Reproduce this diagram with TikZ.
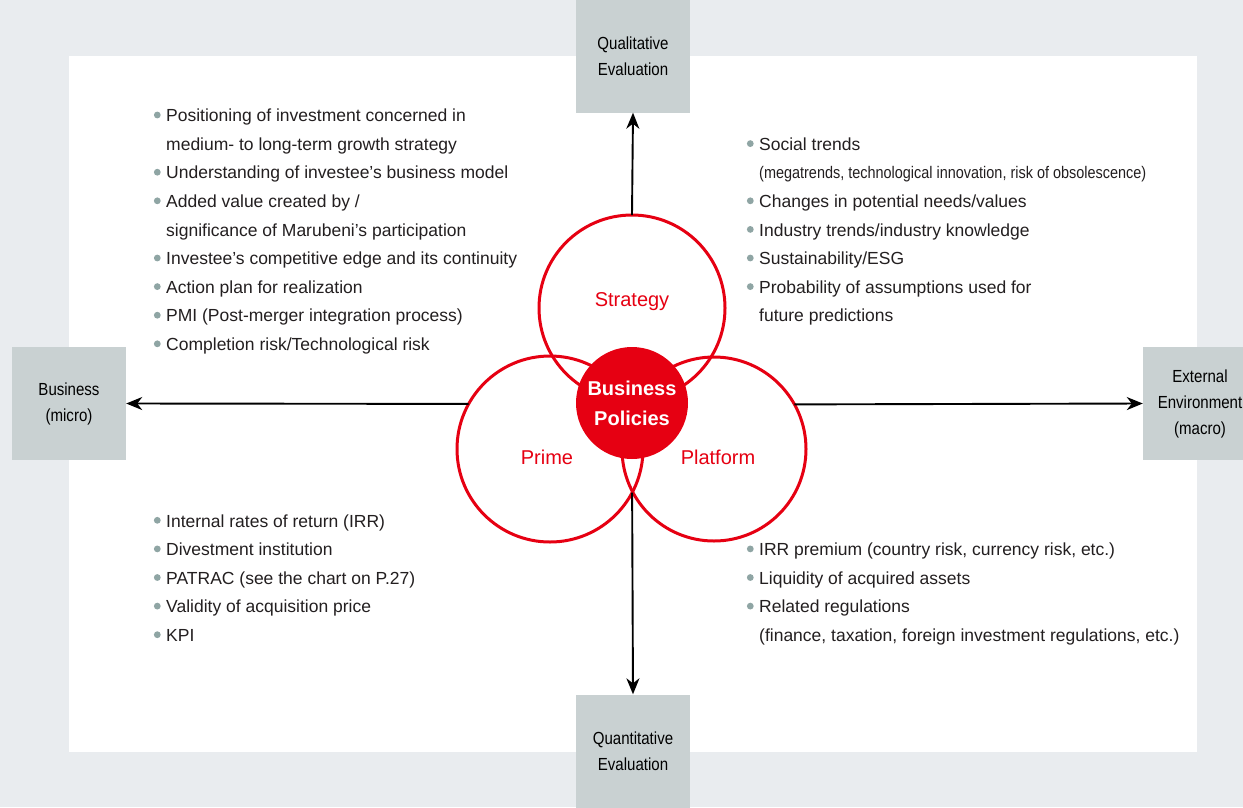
\documentclass[tikz,border=0pt]{standalone}
\usepackage{fontspec}
\setmainfont{Liberation Sans}
\newfontfamily\condfont[FakeStretch=0.86]{Liberation Sans}
\usetikzlibrary{arrows.meta}
\definecolor{mred}{RGB}{230,0,18}
\definecolor{boxgrey}{RGB}{201,209,210}
\definecolor{bggrey}{RGB}{233,236,239}
\definecolor{dotgrey}{RGB}{143,165,164}
\definecolor{txtcol}{RGB}{35,31,32}
\newcommand{\bul}{\llap{\tikz[baseline=-6.7pt]\fill[dotgrey] (0,0) circle (3.4pt);\hspace{5.5pt}}}
\newcommand{\condsmall}{\condfont\fontsize{16.8}{18}\selectfont}
\begin{document}
\begin{tikzpicture}
[x=1pt,y=-1pt,
  boxdecorate/.style={fill=boxgrey,minimum width=114,minimum height=113,inner sep=0,
    align=center,text=black,font=\condfont\fontsize{17.5}{26}\selectfont},
  ringdecorate/.style={circle,draw=mred,line width=3pt,inner sep=0,outer sep=0},
  labeldecorate/.style={anchor=base,inner sep=0,text=mred,font=\fontsize{20}{24}\selectfont},
  listdecorate/.style={anchor=base west,inner sep=0,text=txtcol,font=\fontsize{17.5}{21}\selectfont},
  arrowdecorate/.style={-{Stealth[length=16pt,width=13pt,inset=5pt]},line width=1.9pt}]
\useasboundingbox (0,0) rectangle (1243,807);
%% background and panel
\fill[bggrey] (0,0) rectangle (1243,807);
\fill[white] (69,56) rectangle (1197,752);
%% boxes
\node[boxdecorate] (qual) at (633,56) {Qualitative\\Evaluation};
\node[boxdecorate] (quant) at (633,751) {Quantitative\\Evaluation};
\node[boxdecorate] (micro) at (69,403.5) {Business\\(micro)};
\node[boxdecorate] (macro) at (1200,403.5) {External\\Environment\\(macro)};
%% circles
\node[ringdecorate,minimum size=186] (strategy) at (632,308) {};
\node[ringdecorate,minimum size=186] (prime) at (550,449) {};
\node[ringdecorate,minimum size=184] (platform) at (714,449) {};
\coordinate (low) at (prime.-28);
\node[labeldecorate] (strategylabel) at (632,306) {Strategy};
\node[labeldecorate] (primelabel) at (547,464) {Prime};
\node[labeldecorate] (platformlabel) at (718,464) {Platform};
\node[circle,fill=mred,minimum size=112,inner sep=0,align=center,text=white,
  font=\bfseries\fontsize{20}{30}\selectfont] (policies) at (632,403) {Business\\Policies};
%% arrows
\draw[arrowdecorate] (strategy.north) -- (qual.south);
\draw[arrowdecorate] (low) -- (quant.north);
\draw[arrowdecorate] (prime.151) -- (micro.east);
\draw[arrowdecorate] (platform.29) -- (macro.west);
%% lists
\foreach \txt [count=\i] in {{\bul Positioning of investment concerned in},
  {medium- to long-term growth strategy},
  {\bul Understanding of investee’s business model},
  {\bul Added value created by /},
  {significance of Marubeni’s participation},
  {\bul Investee’s competitive edge and its continuity},
  {\bul Action plan for realization},
  {\bul PMI (Post-merger integration process)},
  {\bul Completion risk/Technological risk}}
{
  \node[listdecorate] (lt\i) at (166,{121.7+28.6*(\i-1)}) {\txt};
}
\foreach \txt [count=\i] in {{\bul Social trends},
  {\condsmall (megatrends, technological innovation, risk of obsolescence)},
  {\bul Changes in potential needs/values},
  {\bul Industry trends/industry knowledge},
  {\bul Sustainability/ESG},
  {\bul Probability of assumptions used for},
  {future predictions}}
{
  \node[listdecorate] (rt\i) at (759,{150.3+28.6*(\i-1)}) {\txt};
}
\foreach \txt [count=\i] in {{\bul Internal rates of return (IRR)},
  {\bul Divestment institution},
  {\bul PATRAC (see the chart on P.27)},
  {\bul Validity of acquisition price},
  {\bul KPI}}
{
  \node[listdecorate] (lb\i) at (166,{527+28.6*(\i-1)}) {\txt};
}
\foreach \txt [count=\i] in {{\bul IRR premium (country risk, currency risk, etc.)},
  {\bul Liquidity of acquired assets},
  {\bul Related regulations},
  {(finance, taxation, foreign investment regulations, etc.)}}
{
  \node[listdecorate] (rb\i) at (759,{555.6+28.6*(\i-1)}) {\txt};
}
\end{tikzpicture}
\end{document}
